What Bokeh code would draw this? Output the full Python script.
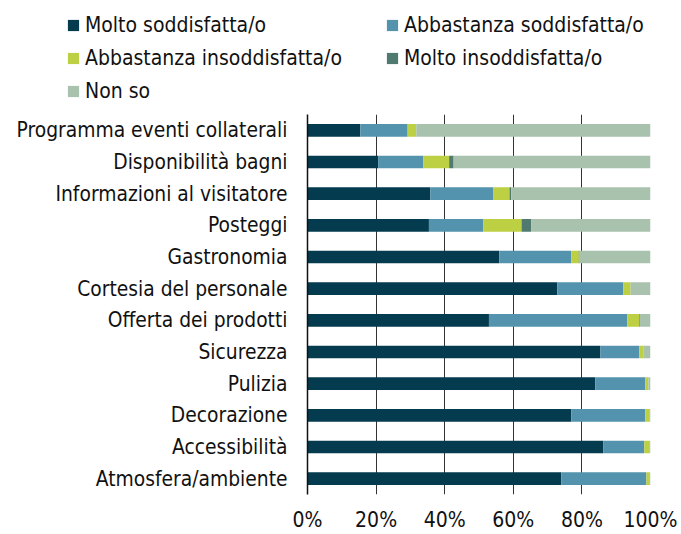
from bokeh.plotting import figure
from bokeh.layouts import column
from bokeh.models import FactorRange, Range1d, Legend, LegendItem, FixedTicker, CustomJSTickFormatter
from bokeh.embed import file_html
from bokeh.resources import INLINE

categories = ["Programma eventi collaterali", "Disponibilità bagni", "Informazioni al visitatore",
              "Posteggi", "Gastronomia", "Cortesia del personale", "Offerta dei prodotti",
              "Sicurezza", "Pulizia", "Decorazione", "Accessibilità", "Atmosfera/ambiente"]
molto_soddisfatta = [15.4, 20.6, 35.8, 35.4, 55.9, 72.8, 52.9, 85.4, 83.9, 76.9, 86.2, 74.0]
abbastanza_soddisfatta = [13.8, 13.2, 18.3, 15.8, 21.0, 19.3, 40.3, 11.3, 14.6, 21.6, 12.0, 24.8]
abbastanza_insoddisfatta = [2.5, 7.5, 4.8, 11.2, 2.2, 2.1, 3.5, 1.2, 0.9, 1.1, 1.4, 0.8]
molto_insoddisfatta = [0.0, 1.3, 0.5, 2.8, 0.2, 0.0, 0.2, 0.0, 0.0, 0.0, 0.0, 0.0]
non_so = [68.3, 57.4, 40.6, 34.8, 20.7, 5.8, 3.1, 2.1, 0.6, 0.4, 0.4, 0.4]

series_names = ["Molto soddisfatta/o", "Abbastanza soddisfatta/o", "Abbastanza insoddisfatta/o",
                "Molto insoddisfatta/o", "Non so"]
series_keys = ["ms", "as", "ai", "mi", "ns"]
colors = ["#043B4F", "#5393AD", "#BDCF43", "#507A70", "#A9C2AE"]
x_ticks = [0, 20, 40, 60, 80, 100]

FONT = "'DejaVu Sans Condensed', 'Liberation Sans Narrow', Lato, sans-serif"
TXT = "#111111"

data = dict(cat=categories, ms=molto_soddisfatta, **{"as": abbastanza_soddisfatta},
            ai=abbastanza_insoddisfatta, mi=molto_insoddisfatta, ns=non_so)

# ---- legend strip (its renderers are hidden; only the legend is shown) ----
lg = figure(width=681, height=110, output_backend="svg", toolbar_location=None,
            x_axis_type=None, y_axis_type=None, x_range=Range1d(0, 100),
            y_range=FactorRange(factors=categories), min_border=0)
lg.frame_align = False
lg.outline_line_color = None
lg.xgrid.grid_line_color = None
lg.ygrid.grid_line_color = None
lg_renderers = lg.hbar_stack(series_keys, y="cat", height=0.4, color=colors, line_color=None, source=data)
for r in lg_renderers:
    r.visible = False
items = [LegendItem(label=n, renderers=[r]) for n, r in zip(series_names, lg_renderers)]
legend = Legend(items=items, location=(66, 5), orientation="horizontal", ncols=2,
                glyph_width=14, glyph_height=14, label_standoff=5, label_width=295,
                label_height=28, spacing=5, padding=0, margin=0,
                label_text_font=FONT, label_text_font_size="21px", label_text_color=TXT,
                inactive_fill_alpha=0,
                border_line_color=None, background_fill_alpha=0)
lg.add_layout(legend, "center")

# ---- main chart ----
p = figure(width=681, height=424, output_backend="svg", toolbar_location=None,
           y_range=FactorRange(factors=list(reversed(categories)), range_padding=0),
           x_range=Range1d(0, 100),
           min_border_left=307, min_border_right=31, min_border_top=4, min_border_bottom=39)
p.frame_align = False
p.outline_line_color = None

p.hbar_stack(series_keys, y="cat", height=0.4, color=colors, line_color=None, source=data)

p.xaxis.ticker = FixedTicker(ticks=x_ticks)
p.xaxis.formatter = CustomJSTickFormatter(code="return tick + '%';")
p.xaxis.axis_line_color = None
p.xaxis.major_tick_line_color = None
p.xaxis.minor_tick_line_color = None
p.xaxis.major_label_standoff = 7
p.xaxis.major_label_text_font = FONT
p.xaxis.major_label_text_font_size = "21px"
p.xaxis.major_label_text_color = TXT

p.yaxis.axis_line_color = "#111111"
p.yaxis.axis_line_width = 1.5
p.yaxis.major_tick_line_color = None
p.yaxis.minor_tick_line_color = None
p.yaxis.major_label_standoff = 14
p.yaxis.major_label_text_font = FONT
p.yaxis.major_label_text_font_size = "20.8px"
p.yaxis.major_label_text_color = TXT

p.ygrid.grid_line_color = None
p.xgrid.grid_line_color = "#333333"
p.xgrid.grid_line_width = 1

open("out.html", "w").write(file_html(column(lg, p, spacing=0), INLINE))
